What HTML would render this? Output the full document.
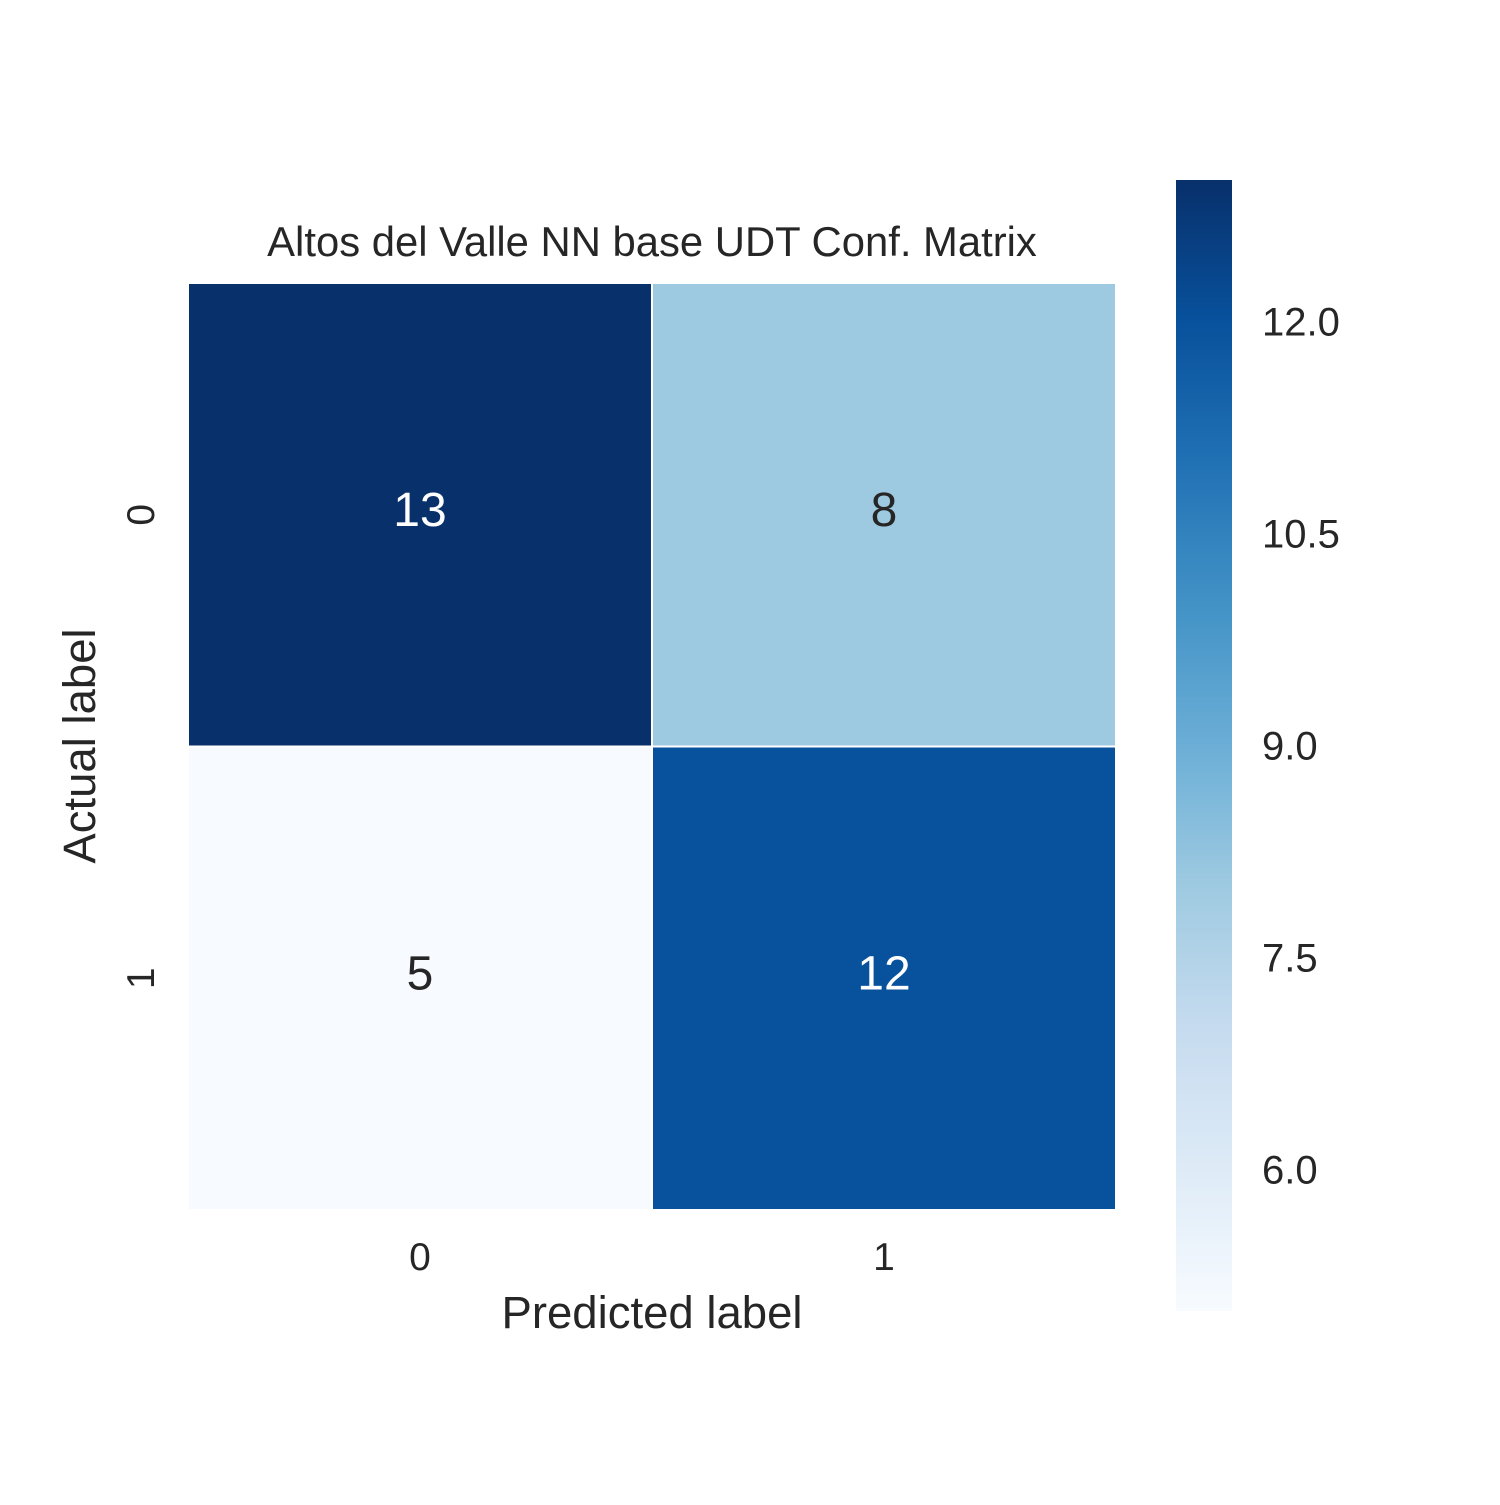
<!DOCTYPE html>
<html><head><meta charset="utf-8"><style>
body{margin:0;background:#fff}
svg text{font-family:"Liberation Sans",Arial,sans-serif;fill:#262626}
</style></head><body>
<svg width="1500" height="1500" viewBox="0 0 1500 1500">
<defs><linearGradient id="cbg" x1="0" y1="1" x2="0" y2="0">
<stop offset="0" stop-color="#f7fbff"/><stop offset="0.125" stop-color="#deebf7"/><stop offset="0.25" stop-color="#c6dbef"/><stop offset="0.375" stop-color="#9ecae1"/><stop offset="0.5" stop-color="#6baed6"/><stop offset="0.625" stop-color="#4292c6"/><stop offset="0.75" stop-color="#2171b5"/><stop offset="0.875" stop-color="#08519c"/><stop offset="1" stop-color="#08306b"/>
</linearGradient></defs>
<g id="cells"></g>
<text x="652" y="256" font-size="41.8" text-anchor="middle">Altos del Valle NN base UDT Conf. Matrix</text>
<g id="xt"></g><g id="yt"></g>
<text x="652" y="1328" font-size="45.5" text-anchor="middle">Predicted label</text>
<text transform="translate(95,746) rotate(-90)" font-size="45.5" text-anchor="middle">Actual label</text>
<rect x="1176" y="180" width="56" height="1131" fill="url(#cbg)"/>
<g id="cbt"></g>
</svg>
<script>
const xLabels=["0","1"];
const yLabels=["0","1"];
const row0=[13,8];
const row1=[5,12];
const cbTicks=[6.0,7.5,9.0,10.5,12.0];
const vmin=5, vmax=13;
const NS="http://www.w3.org/2000/svg";
const x0=188,y0=283,cw=464,ch=463.5;
const stops=[[247,251,255],[222,235,247],[198,219,239],[158,202,225],[107,174,214],[66,146,198],[33,113,181],[8,81,156],[8,48,107]];
function cmap(v){let t=(v-vmin)/(vmax-vmin);t=Math.max(0,Math.min(1,t))*8;let i=Math.min(7,Math.floor(t)),f=t-i;
const c=stops[i].map((a,k)=>Math.round(a+(stops[i+1][k]-a)*f));return {c:`rgb(${c})`,t:t/8};}
function xs(i){return x0+i*cw;} function ys(j){return y0+j*ch;}
function cbY(v){return 180+1131*(1-(v-vmin)/(vmax-vmin));}
const rows=[row0,row1];
const g=document.getElementById('cells');
rows.forEach((r,j)=>r.forEach((v,i)=>{
 const m=cmap(v);
 const rc=document.createElementNS(NS,'rect');
 rc.setAttribute('x',xs(i));rc.setAttribute('y',ys(j));rc.setAttribute('width',cw);rc.setAttribute('height',ch);
 rc.setAttribute('fill',m.c);rc.setAttribute('stroke','#fff');rc.setAttribute('stroke-width','2');
 
 
 g.appendChild(rc);
 const tx=document.createElementNS(NS,'text');
 tx.setAttribute('x',xs(i)+cw/2);tx.setAttribute('y',ys(j)+ch/2+11);tx.setAttribute('font-size','48');tx.setAttribute('text-anchor','middle');
 tx.setAttribute('style','fill:'+(m.t>0.6?'#ffffff':'#262626'));
 tx.textContent=v;
 
 
 g.appendChild(tx);
}));
const xt=document.getElementById('xt');
xLabels.forEach((l,i)=>{const t=document.createElementNS(NS,'text');t.setAttribute('x',xs(i)+cw/2);t.setAttribute('y',1270);t.setAttribute('font-size','39');t.setAttribute('text-anchor','middle');t.textContent=l;


xt.appendChild(t);});
const yt=document.getElementById('yt');
yLabels.forEach((l,j)=>{const t=document.createElementNS(NS,'text');const cy=ys(j)+ch/2;t.setAttribute('transform',`translate(154,${cy}) rotate(-90)`);t.setAttribute('font-size','39');t.setAttribute('text-anchor','middle');t.textContent=l;


yt.appendChild(t);});
const cb=document.getElementById('cbt');
cbTicks.forEach(v=>{const t=document.createElementNS(NS,'text');t.setAttribute('x',1262);t.setAttribute('y',cbY(v)+14);t.setAttribute('font-size','40');t.textContent=v.toFixed(1);


cb.appendChild(t);});
</script>
</body></html>
